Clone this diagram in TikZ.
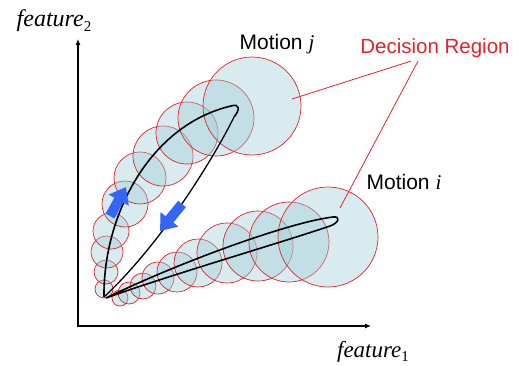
\documentclass[tikz,border=0pt]{standalone}
\usepackage{fontspec}
\setmainfont{Liberation Serif}
\setsansfont{Liberation Sans}
\usepackage{xcolor}
\definecolor{region}{HTML}{E3232C}
\definecolor{cellfill}{HTML}{9ECDD7}
\definecolor{turn}{HTML}{3366F2}
\usepackage{tikz}
\usetikzlibrary{arrows.meta}
\newcommand{\feat}[1]{\textit{feature}\raisebox{-0.4ex}{\fontsize{15}{15}\selectfont #1}}

\begin{document}
\begin{tikzpicture}[x=1pt, y=-1pt,
    cell/.style={draw=region, line width=0.7pt, fill=cellfill, fill opacity=0.4},
    loopline/.style={draw=black, line width=1.6pt, line join=round},
    axis/.style={draw=black, line width=1.1pt, -{Latex[length=6pt, width=5pt]}},
    turnarrow/.style={draw=turn, line width=10pt, -{Triangle[length=15pt, width=22pt]}}]
  \useasboundingbox (0,0) rectangle (522,365);
  % decision regions of motion j
  \foreach \cx/\cy/\r in {104/289/9, 106/272/12, 107/252/16, 111/231/18, 125/204/23,
      140/178/26, 163/156/30, 187/133/31, 216/118/38, 252/106/49}
    \draw[cell] (\cx,\cy) circle (\r pt);
  % decision regions of motion i
  \foreach \cx/\cy/\r in {120/298/8, 129/293/11, 143/286/13, 158/278/16, 177/272/20,
      198/263/24, 227/253/30, 258/246/35, 289/242/40, 328/237/50}
    \draw[cell] (\cx,\cy) circle (\r pt);
  % trajectories
  \draw[loopline] (104,297) .. controls (103,215) and (150,125) .. (231,106)
      .. controls (240,103) and (240,110) .. (234,117);
  \draw[loopline, line width=1.3pt] (234,117) .. controls (218,150) and (165,240) .. (104,297);
  \draw[loopline] (106,298) .. controls (180,262) and (290,222) .. (333,217)
      .. controls (341,216) and (339,223) .. (330,226)
      .. controls (280,243) and (170,275) .. (106,298);
  \coordinate (uptail) at (110,216);
  \coordinate (uptip) at (126,187);
  \coordinate (downtail) at (182,204);
  \coordinate (downtip) at (160,231);
  \draw[turnarrow] (uptail) -- (uptip);
  \draw[turnarrow] (downtail) -- (downtip);
  % axes
  \coordinate (origin) at (78,326);
  \coordinate (ytop) at (78,39);
  \coordinate (xend) at (371,326);
  \draw[axis] ([xshift=-1pt]origin) -- (xend);
  \draw[axis] (origin) -- (ytop);
  \node[font=\fontsize{24}{26}\selectfont] (f2) at (54,21) {\feat{2}};
  \node[font=\fontsize{23}{26}\selectfont] (f1) at (373,352) {\feat{1}};
  % labels
  \node[font=\sffamily\fontsize{21}{24}\selectfont] (motj) at (277,44)
      {Motion \textrm{\textit{j}}};
  \node[font=\sffamily\fontsize{21}{24}\selectfont] (moti) at (404,182)
      {Motion \textrm{\textit{i}}};
  \node[font=\sffamily\fontsize{20.5}{24}\selectfont, text=region] (decision) at (435,48)
      {Decision Region};
  \coordinate (inj) at (292,99);
  \coordinate (ini) at (340,208);
  \draw[region, line width=0.8pt] ([xshift=-24pt]decision.south) -- (inj);
  \draw[region, line width=0.8pt] ([xshift=-17pt]decision.south) -- (ini);
\end{tikzpicture}
\end{document}
